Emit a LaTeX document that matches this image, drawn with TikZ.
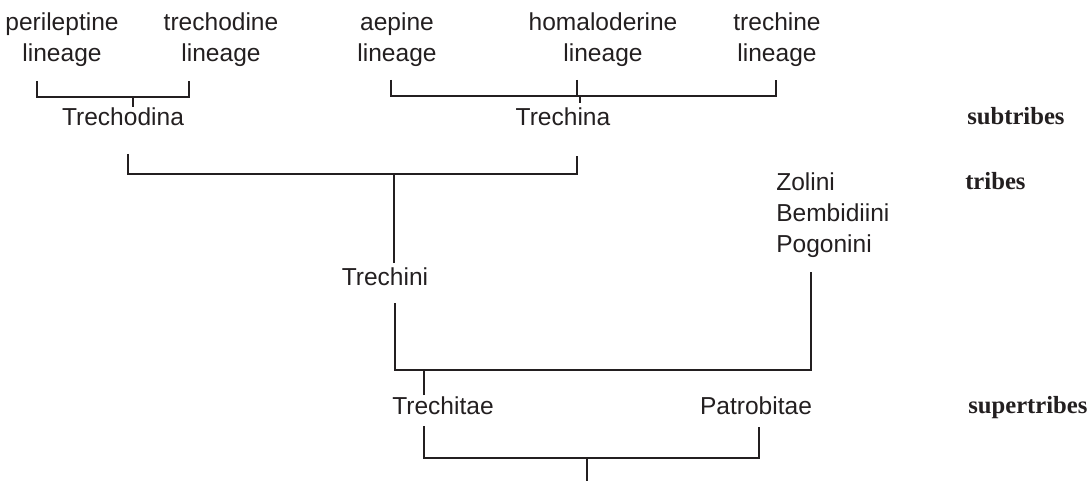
\documentclass[tikz,border=0pt]{standalone}
\usepackage{fontspec}
\setmainfont{Liberation Sans}
\newfontfamily\rankfont{Liberation Serif}
\definecolor{ink}{RGB}{35,31,32}
\tikzset{
  taxon/.style={inner sep=0pt, anchor=base, align=center, text=ink,
    font=\fontsize{18.4}{23.25}\selectfont},
  rank/.style={inner sep=0pt, anchor=base west, text=ink,
    font=\rankfont\bfseries\fontsize{18.5}{22}\selectfont},
  branch/.style={draw=ink, line width=1.9pt}
}

\begin{document}
\begin{tikzpicture}[x=0.75pt, y=-0.75pt]
  \useasboundingbox (0,0) rectangle (1091,481);

  % lineages (base = last line)
  \node[taxon] (peri) at (62,62) {perileptine\\lineage};
  \node[taxon] (trechod) at (221,62) {trechodine\\lineage};
  \node[taxon] (aep) at (397,62) {aepine\\lineage};
  \node[taxon] (homal) at (603,62) {homaloderine\\lineage};
  \node[taxon] (trechine) at (777,62) {trechine\\lineage};

  % subtribes, tribes, supertribes
  \node[taxon] (trechodina) at (123,126) {Trechodina};
  \node[taxon] (trechina) at (563,126) {Trechina};
  \node[taxon] (trechini) at (385,285) {Trechini};
  \node[taxon, anchor=base west, align=left] (others) at (776,252) {Zolini\\Bembidiini\\Pogonini};
  \node[taxon] (trechitae) at (443,414) {Trechitae};
  \node[taxon] (patro) at (756,414) {Patrobitae};

  % rank labels
  \node[rank] (subtribes) at (967,125) {subtribes};
  \node[rank] (tribes) at (965,189) {tribes};
  \node[rank] (supertribes) at (968,413) {supertribes};

  % branch ends
  \coordinate (peri-b) at (37,81);
  \coordinate (trechod-b) at (189,81);
  \coordinate (trechodina-t) at (133,107);
  \coordinate (aep-b) at (391,80);
  \coordinate (homal-b) at (577,80);
  \coordinate (trechine-b) at (776,80);
  \coordinate (trechina-t) at (580,103);
  \coordinate (trechodina-b) at (128,154);
  \coordinate (trechina-b) at (577,156);
  \coordinate (trechini-t) at (394,263);
  \coordinate (trechini-b) at (395,303);
  \coordinate (others-b) at (811,272);
  \coordinate (trechitae-t) at (424,395);
  \coordinate (trechitae-b) at (424,426);
  \coordinate (patro-b) at (759,427);
  \coordinate (root) at (587,481);

  \draw[branch] (peri-b) -- ++(0,16) -| (trechod-b);
  \draw[branch] (trechodina-t) -- ++(0,-10);
  \draw[branch] (aep-b) -- ++(0,16) -| (trechine-b);
  \draw[branch] (homal-b) -- ++(0,16);
  \draw[branch] (trechina-t) -- ++(0,-7);
  \draw[branch] (trechodina-b) -- ++(0,20) -| (trechina-b);
  \draw[branch] (trechini-t) -- ++(0,-89);
  \draw[branch] (trechini-b) -- ++(0,67) -| (others-b);
  \draw[branch] (trechitae-t) -- ++(0,-25);
  \draw[branch] (trechitae-b) -- ++(0,32) -| (patro-b);
  \draw[branch] (root) -- ++(0,-23);
\end{tikzpicture}
\end{document}
